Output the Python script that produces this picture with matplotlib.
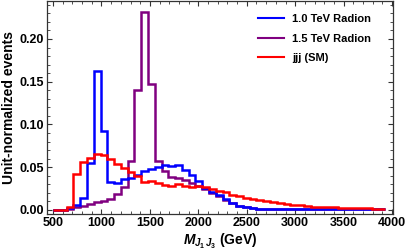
import numpy as np
import matplotlib
matplotlib.use("Agg")
import matplotlib.pyplot as plt
from matplotlib.ticker import MultipleLocator, FixedLocator
from matplotlib.lines import Line2D

# ---- data (70 GeV bins from 500 GeV) ----
bin_width = 70
bin_start = 500
n_bins = 49

radion_10 = [0, 0, 0.002, 0.006, 0.014, 0.055, 0.163, 0.092, 0.033, 0.031,
             0.036, 0.037, 0.041, 0.045, 0.048, 0.050, 0.052, 0.051, 0.052, 0.047,
             0.041, 0.034, 0.026, 0.021, 0.017, 0.013, 0.008, 0.005, 0.003, 0.002,
             0.0015, 0.0015, 0.0015, 0.0015, 0.0015, 0.0015, 0.001, 0.001, 0.001, 0.001,
             0.001, 0.001, 0.001, 0.001, 0.001, 0.001, 0.001, 0.001, 0.001]

radion_15 = [0, 0, 0.001, 0.003, 0.005, 0.007, 0.009, 0.011, 0.013, 0.019,
             0.027, 0.057, 0.140, 0.231, 0.147, 0.057, 0.045, 0.039, 0.037, 0.035,
             0.031, 0.028, 0.024, 0.020, 0.016, 0.012, 0.008, 0.005, 0.003, 0.002,
             0.0015, 0.0015, 0.0015, 0.0015, 0.0015, 0.0015, 0.001, 0.001, 0.001, 0.001,
             0.001, 0.001, 0.001, 0.001, 0.001, 0.001, 0.001, 0.001, 0.001]

jjj_sm = [0, 0, 0.004, 0.042, 0.056, 0.0606, 0.065, 0.064, 0.059, 0.054,
          0.049, 0.044, 0.040, 0.033, 0.034, 0.031, 0.029, 0.028, 0.030, 0.028,
          0.027, 0.028, 0.027, 0.024, 0.022, 0.021, 0.018, 0.016, 0.014, 0.013,
          0.012, 0.0105, 0.009, 0.008, 0.0075, 0.006, 0.0055, 0.0045, 0.004, 0.004,
          0.003, 0.003, 0.0027, 0.0027, 0.0025, 0.0027, 0.0017, 0.0015, 0.0015]

labels = ["1.0 TeV Radion", "1.5 TeV Radion", "jjj (SM)"]
colors = ["#0000ff", "#800080", "#ff0000"]

x_ticks = [500, 1000, 1500, 2000, 2500, 3000, 3500, 4000]
y_ticks = [0.00, 0.05, 0.10, 0.15, 0.20]

edges = bin_start + bin_width * np.arange(n_bins + 1)

plt.rcParams["font.family"] = ["Liberation Sans", "DejaVu Sans"]
plt.rcParams["font.weight"] = "bold"
plt.rcParams["mathtext.fontset"] = "custom"
plt.rcParams["mathtext.it"] = "Liberation Sans:italic:bold"
plt.rcParams["mathtext.rm"] = "Liberation Sans:bold"
plt.rcParams["mathtext.bf"] = "Liberation Sans:bold"

fig = plt.figure(figsize=(4.09, 2.52), dpi=100)
ax = fig.add_axes([0.115, 0.151, 0.846, 0.845])

lw = 1.8
ax.stairs(radion_15, edges, color=colors[1], lw=lw, baseline=None, zorder=2)
ax.stairs(radion_10, edges, color=colors[0], lw=lw, baseline=None, zorder=3)
ax.stairs(jjj_sm, edges, color=colors[2], lw=lw, baseline=None, zorder=4)

ax.set_xlim(438, 4010)
ax.set_ylim(-0.0047, 0.2444)

ax.xaxis.set_major_locator(FixedLocator(x_ticks))
ax.yaxis.set_major_locator(FixedLocator(y_ticks))
ax.xaxis.set_minor_locator(MultipleLocator(100))
ax.yaxis.set_minor_locator(MultipleLocator(0.01))
ax.set_xticklabels([str(t) for t in x_ticks])
ax.set_yticklabels([f"{t:.2f}" for t in y_ticks])

ax.tick_params(which="both", direction="in", top=True, right=True,
               labelsize=9, pad=2, color="#333333")
ax.tick_params(which="major", length=3.6, width=0.8)
ax.tick_params(which="minor", length=2.0, width=0.6)
for sp in ax.spines.values():
    sp.set_linewidth(0.9)
    sp.set_color("#333333")

ax.set_xlabel(r"$M_{J_1\,J_3}$ (GeV)", fontsize=10, fontweight="bold", labelpad=2)
ax.set_ylabel("Unit-normalized events", fontsize=10, fontweight="bold", labelpad=3)

handles = [Line2D([], [], color=c, lw=1.5) for c in colors]
leg = ax.legend(handles, labels, loc="upper left", bbox_to_anchor=(0.58, 0.985),
                frameon=False, fontsize=8, handlelength=2.4, handletextpad=0.7,
                labelspacing=0.85, borderpad=0.4)
for t in leg.get_texts():
    t.set_fontweight("bold")

fig.savefig("out.png", dpi=100)
